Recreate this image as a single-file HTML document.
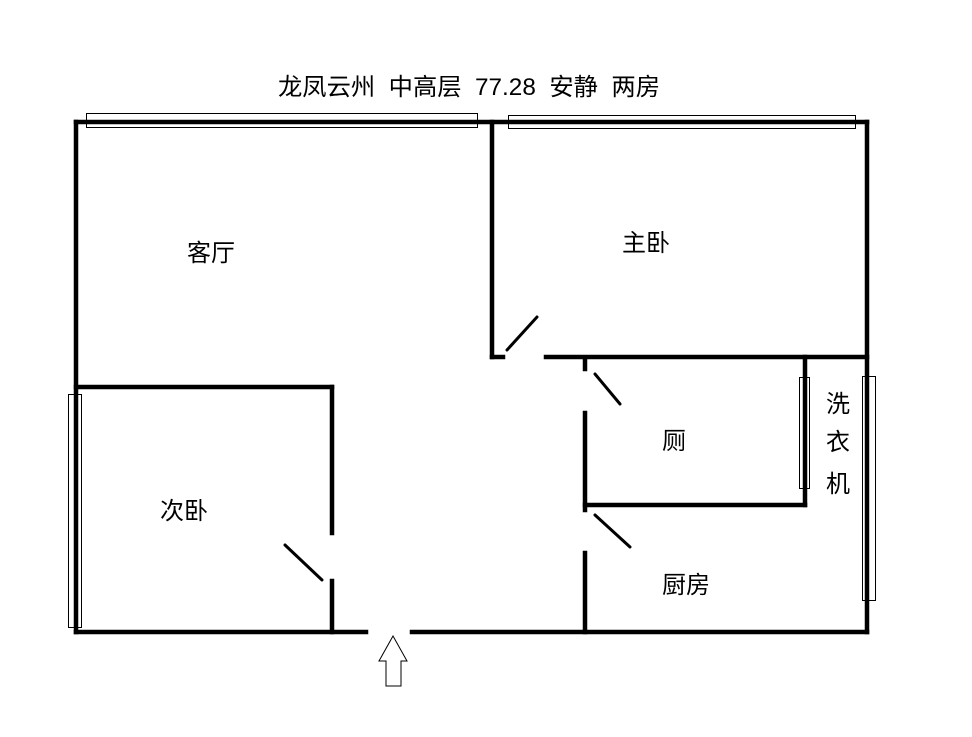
<!DOCTYPE html>
<html><head><meta charset="utf-8"><style>
html,body{margin:0;padding:0;background:#fff;}
svg{display:block}
text{font-family:"Liberation Sans","Noto Sans CJK SC",sans-serif;fill:#000;}
</style></head><body>
<svg width="972" height="737" viewBox="0 0 972 737" xmlns="http://www.w3.org/2000/svg">
<g stroke="#000" stroke-width="4.5" fill="none" stroke-linecap="square">
<line x1="76" y1="122" x2="867" y2="122"/>
<line x1="76" y1="122" x2="76" y2="632"/>
<line x1="867" y1="122" x2="867" y2="632"/>
<line x1="76" y1="632" x2="366" y2="632"/>
<line x1="412" y1="632" x2="867" y2="632"/>
<line x1="492" y1="122" x2="492" y2="357"/>
<line x1="492" y1="357" x2="503" y2="357"/>
<line x1="546" y1="357" x2="867" y2="357"/>
<line x1="585" y1="360" x2="585" y2="369"/>
<line x1="585" y1="413" x2="585" y2="510"/>
<line x1="585" y1="505" x2="805" y2="505"/>
<line x1="805" y1="357" x2="805" y2="505"/>
<line x1="585" y1="553" x2="585" y2="632"/>
<line x1="76" y1="387" x2="332" y2="387"/>
<line x1="332" y1="387" x2="332" y2="533"/>
<line x1="332" y1="581" x2="332" y2="632"/>
</g>
<g stroke="#000" stroke-width="3" stroke-linecap="round">
<line x1="507" y1="350" x2="537" y2="317"/>
<line x1="595" y1="374" x2="620" y2="404"/>
<line x1="595" y1="515" x2="630" y2="547"/>
<line x1="285" y1="545" x2="322" y2="580"/>
</g>
<g stroke="#000" stroke-width="1" fill="none">
<rect x="86.5" y="113.5" width="391" height="14"/>
<rect x="508.5" y="115.5" width="347" height="13"/>
<rect x="68.5" y="394.5" width="13" height="233"/>
<rect x="862.5" y="376.5" width="13" height="224"/>
<rect x="799.5" y="377.5" width="10" height="111"/>
<polygon points="393,636 407,661 401,661 401,686 386,686 386,661 379,661"/>
</g>
<text x="278" y="95" font-size="24" textLength="382" lengthAdjust="spacingAndGlyphs" xml:space="preserve">龙凤云州  中高层  77.28  安静  两房</text>
<g font-size="24">
<text x="187" y="261">客厅</text>
<text x="622" y="251">主卧</text>
<text x="662" y="449">厕</text>
<text x="826" y="412">洗</text>
<text x="826" y="450">衣</text>
<text x="826" y="492">机</text>
<text x="662" y="593">厨房</text>
<text x="160" y="519">次卧</text>
</g>
</svg>
</body></html>
